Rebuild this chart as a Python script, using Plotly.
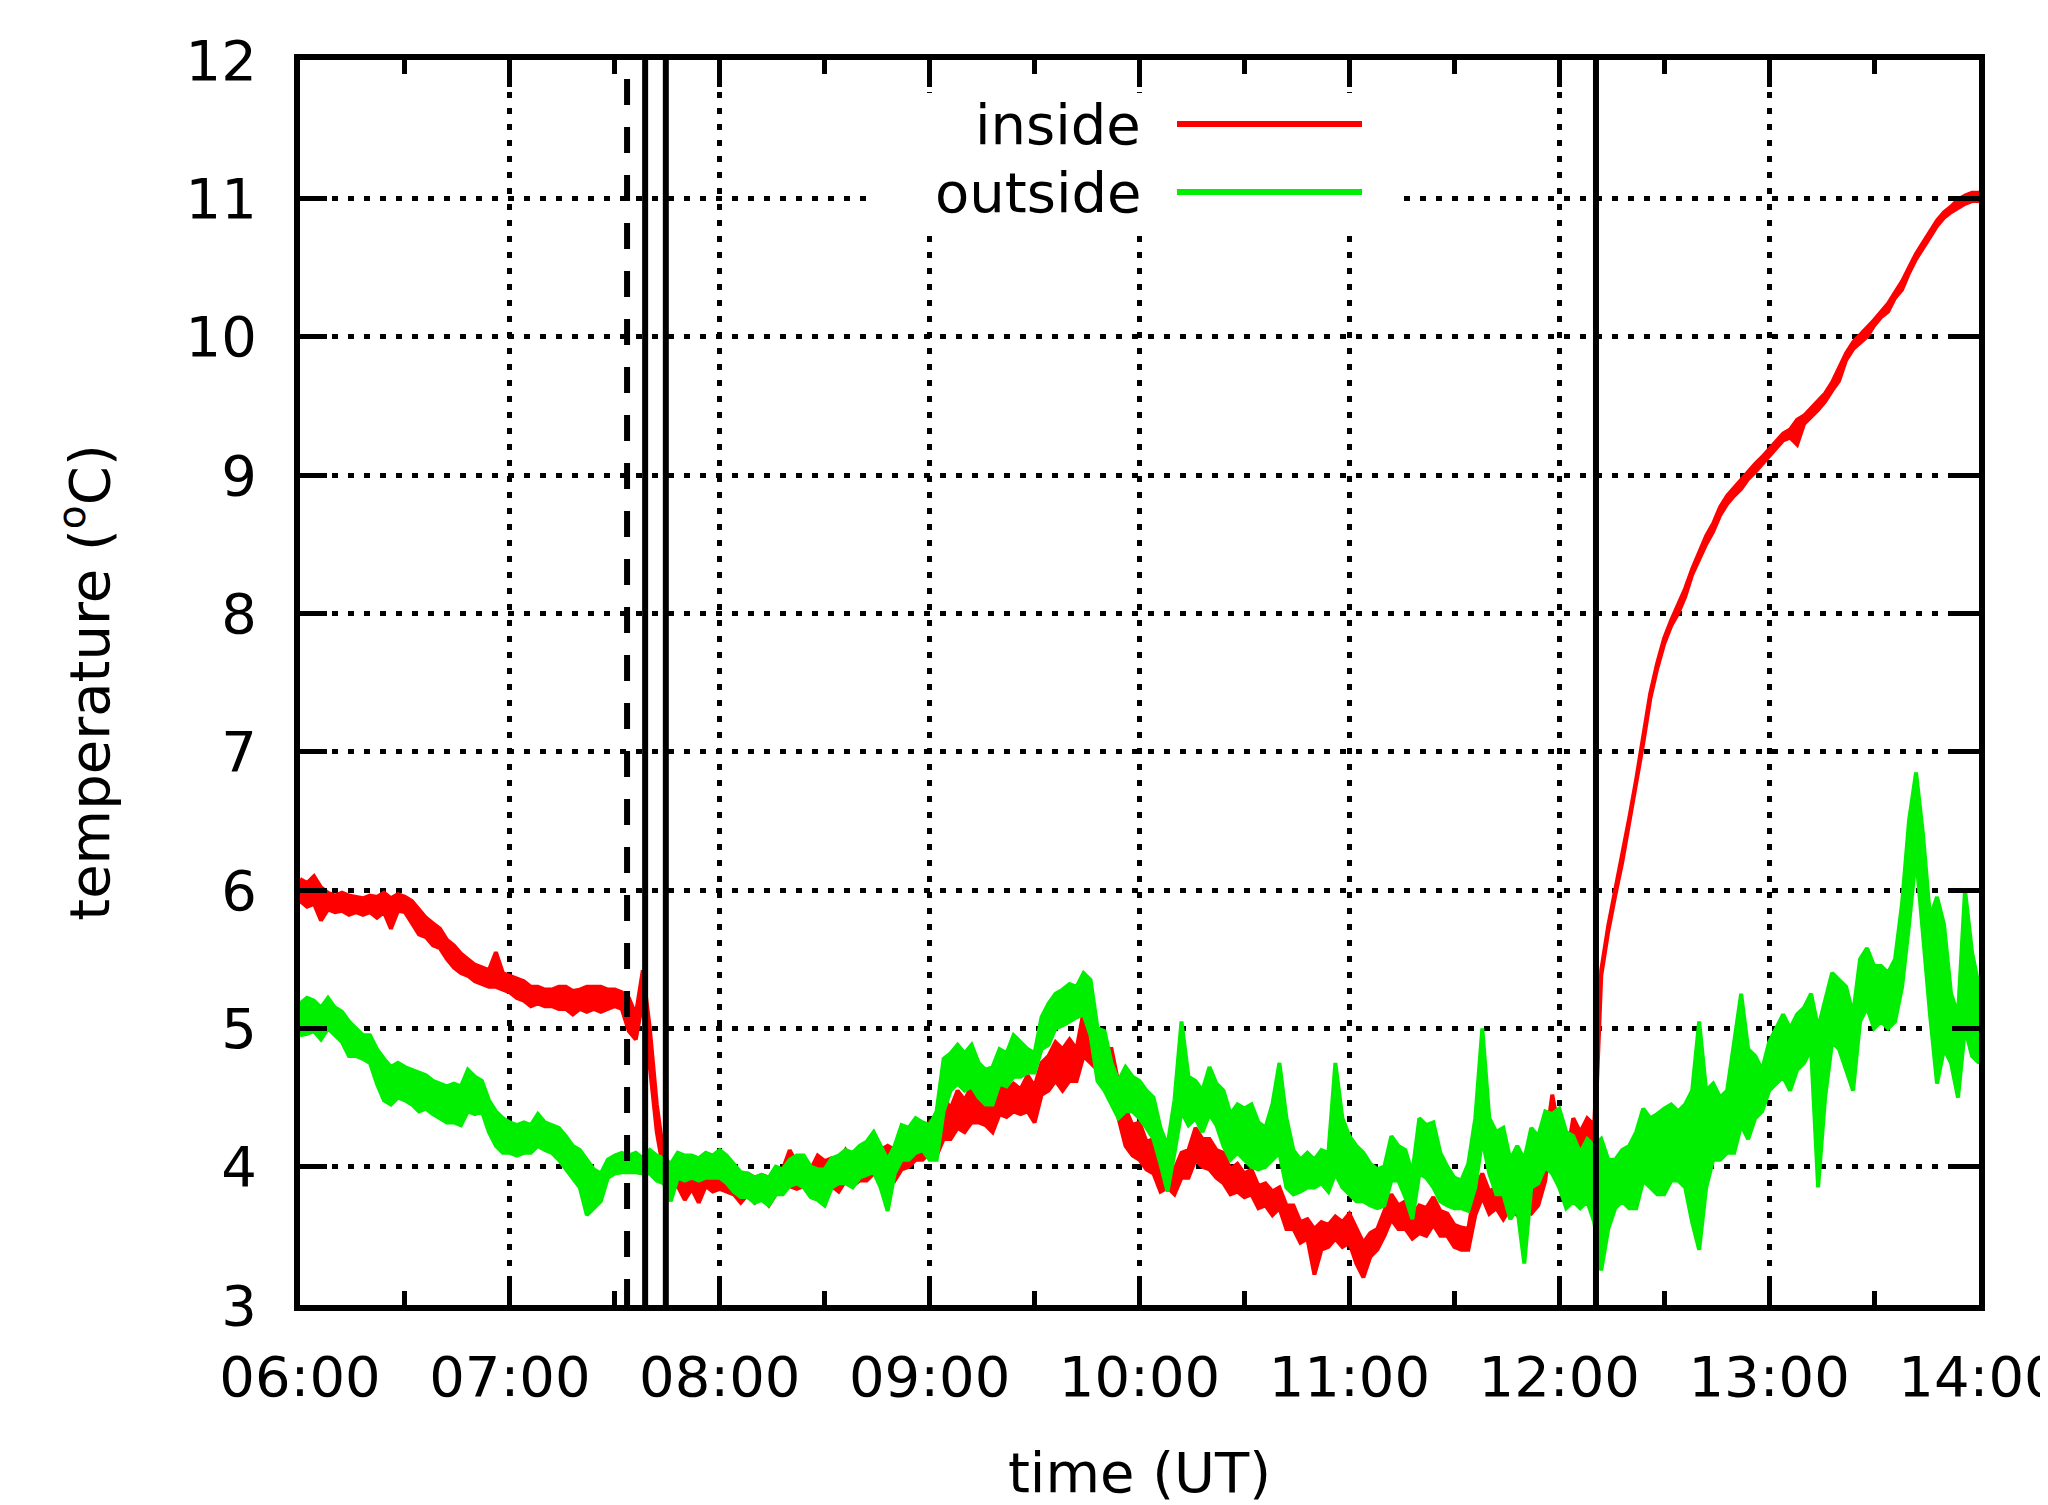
import pandas as pd
import plotly.graph_objects as go

# ---------------- data ----------------
day = "2013-01-01"
sample_start = "06:00"
sample_end = "14:00"
sample_step = "2min"

# inside temperature (degC): upper / lower edge of the noisy trace, every 2 min 06:00..14:00
inside_hi = [
    6.08, 6.05, 6.10, 6.02, 5.98,   # 06:00
    5.96, 5.98, 5.96, 5.95, 5.94,   # 06:10
    5.96, 5.95, 5.98, 5.94, 5.97,   # 06:20
    5.95, 5.92, 5.86, 5.80, 5.76,   # 06:30
    5.72, 5.64, 5.60, 5.54, 5.50,   # 06:40
    5.46, 5.44, 5.42, 5.55, 5.40,   # 06:50
    5.38, 5.36, 5.34, 5.30, 5.30,   # 07:00
    5.28, 5.28, 5.30, 5.30, 5.27,   # 07:10
    5.28, 5.30, 5.30, 5.30, 5.28,   # 07:20
    5.28, 5.26, 5.22, 5.10, 5.42,   # 07:30
    5.00, 4.45, 4.08, 4.00, 4.02,   # 07:40
    3.98, 3.98, 3.98, 4.00, 3.98,   # 07:50
    4.00, 3.98, 3.96, 3.94, 3.95,   # 08:00
    3.92, 3.94, 3.92, 3.96, 3.98,   # 08:10
    4.12, 4.02, 4.02, 3.98, 4.08,   # 08:20
    4.04, 4.06, 4.02, 4.12, 4.05,   # 08:30
    4.12, 4.10, 4.18, 4.12, 4.15,   # 08:40
    4.12, 4.22, 4.18, 4.28, 4.25,   # 08:50
    4.32, 4.25, 4.50, 4.42, 4.55,   # 09:00
    4.48, 4.58, 4.52, 4.56, 4.50,   # 09:10
    4.62, 4.55, 4.60, 4.56, 4.66,   # 09:20
    4.58, 4.75, 4.80, 4.90, 4.85,   # 09:30
    4.92, 4.85, 5.12, 5.00, 4.98,   # 09:40
    4.85, 4.85, 4.60, 4.42, 4.30,   # 09:50
    4.32, 4.18, 4.20, 4.02, 4.00,   # 10:00
    3.98, 4.10, 4.12, 4.28, 4.20,   # 10:10
    4.20, 4.12, 4.10, 3.98, 4.02,   # 10:20
    3.95, 3.98, 3.86, 3.88, 3.82,   # 10:30
    3.85, 3.72, 3.72, 3.60, 3.62,   # 10:40
    3.55, 3.60, 3.58, 3.64, 3.60,   # 10:50
    3.66, 3.55, 3.45, 3.52, 3.55,   # 11:00
    3.68, 3.80, 3.72, 3.75, 3.65,   # 11:10
    3.72, 3.70, 3.78, 3.68, 3.66,   # 11:20
    3.58, 3.56, 3.55, 3.85, 3.95,   # 11:30
    3.82, 3.85, 3.80, 3.88, 3.82,   # 11:40
    3.86, 3.80, 3.90, 4.15, 4.52,   # 11:50
    4.25, 4.05, 4.35, 4.25, 4.35,   # 12:00
    4.30, 5.42, 5.74, 6.00, 6.24,   # 12:10
    6.52, 6.80, 7.10, 7.42, 7.64,   # 12:20
    7.82, 7.95, 8.06, 8.18, 8.32,   # 12:30
    8.45, 8.56, 8.65, 8.77, 8.85,   # 12:40
    8.91, 8.96, 9.03, 9.08, 9.13,   # 12:50
    9.19, 9.25, 9.30, 9.33, 9.40,   # 13:00
    9.43, 9.48, 9.53, 9.59, 9.67,   # 13:10
    9.78, 9.88, 9.96, 10.01, 10.06,     # 13:20
    10.12, 10.18, 10.24, 10.32, 10.40,  # 13:30
    10.50, 10.60, 10.68, 10.76, 10.84,  # 13:40
    10.90, 10.94, 10.99, 11.02, 11.04,  # 13:50
    11.04,                              # 14:00
]
inside_lo = [
    5.92, 5.88, 5.90, 5.78, 5.86,   # 06:00
    5.84, 5.85, 5.82, 5.84, 5.82,   # 06:10
    5.84, 5.80, 5.84, 5.72, 5.85,   # 06:20
    5.84, 5.76, 5.68, 5.66, 5.60,   # 06:30
    5.58, 5.50, 5.44, 5.40, 5.38,   # 06:40
    5.34, 5.32, 5.30, 5.30, 5.28,   # 06:50
    5.26, 5.22, 5.20, 5.16, 5.18,   # 07:00
    5.16, 5.16, 5.14, 5.14, 5.10,   # 07:10
    5.14, 5.12, 5.14, 5.12, 5.14,   # 07:20
    5.16, 5.14, 4.98, 4.92, 5.20,   # 07:30
    4.75, 4.25, 3.96, 3.84, 3.86,   # 07:40
    3.76, 3.84, 3.74, 3.86, 3.82,   # 07:50
    3.84, 3.82, 3.80, 3.74, 3.80,   # 08:00
    3.74, 3.78, 3.72, 3.80, 3.82,   # 08:10
    3.86, 3.84, 3.86, 3.80, 3.88,   # 08:20
    3.84, 3.86, 3.82, 3.90, 3.86,   # 08:30
    3.90, 3.90, 3.95, 3.92, 3.95,   # 08:40
    3.90, 3.98, 4.00, 4.05, 4.05,   # 08:50
    4.10, 4.08, 4.20, 4.20, 4.28,   # 09:00
    4.25, 4.32, 4.32, 4.30, 4.25,   # 09:10
    4.38, 4.36, 4.40, 4.38, 4.40,   # 09:20
    4.32, 4.52, 4.55, 4.62, 4.55,   # 09:30
    4.62, 4.62, 4.80, 4.75, 4.70,   # 09:40
    4.62, 4.55, 4.35, 4.15, 4.08,   # 09:50
    4.05, 3.98, 3.95, 3.82, 3.85,   # 10:00
    3.80, 3.92, 3.92, 4.05, 4.00,   # 10:10
    3.98, 3.92, 3.88, 3.80, 3.82,   # 10:20
    3.78, 3.80, 3.70, 3.72, 3.65,   # 10:30
    3.70, 3.55, 3.55, 3.45, 3.48,   # 10:40
    3.22, 3.40, 3.42, 3.48, 3.42,   # 10:50
    3.45, 3.30, 3.20, 3.35, 3.40,   # 11:00
    3.50, 3.62, 3.55, 3.55, 3.48,   # 11:10
    3.52, 3.50, 3.58, 3.50, 3.50,   # 11:20
    3.42, 3.40, 3.40, 3.65, 3.78,   # 11:30
    3.66, 3.70, 3.62, 3.70, 3.65,   # 11:40
    3.68, 3.66, 3.72, 3.90, 4.30,   # 11:50
    4.05, 3.90, 4.15, 4.08, 4.15,   # 12:00
    4.10, 5.38, 5.70, 5.96, 6.20,   # 12:10
    6.48, 6.76, 7.06, 7.38, 7.60,   # 12:20
    7.78, 7.91, 8.00, 8.12, 8.28,   # 12:30
    8.39, 8.50, 8.59, 8.71, 8.79,   # 12:40
    8.85, 8.90, 8.97, 9.02, 9.07,   # 12:50
    9.13, 9.19, 9.25, 9.27, 9.22,   # 13:00
    9.37, 9.42, 9.47, 9.53, 9.61,   # 13:10
    9.68, 9.83, 9.91, 9.95, 10.00,      # 13:20
    10.08, 10.14, 10.18, 10.28, 10.34,  # 13:30
    10.46, 10.56, 10.64, 10.72, 10.80,  # 13:40
    10.86, 10.90, 10.93, 10.96, 10.98,  # 13:50
    10.98,                              # 14:00
]

# outside temperature (degC): upper / lower edge, same sampling
outside_hi = [
    5.18, 5.22, 5.20, 5.15, 5.22,   # 06:00
    5.15, 5.12, 5.05, 5.00, 4.95,   # 06:10
    4.95, 4.85, 4.78, 4.72, 4.75,   # 06:20
    4.72, 4.70, 4.68, 4.66, 4.62,   # 06:30
    4.60, 4.58, 4.60, 4.58, 4.70,   # 06:40
    4.65, 4.62, 4.48, 4.40, 4.35,   # 06:50
    4.32, 4.30, 4.32, 4.30, 4.38,   # 07:00
    4.32, 4.30, 4.28, 4.22, 4.15,   # 07:10
    4.12, 4.05, 3.98, 3.95, 4.05,   # 07:20
    4.08, 4.10, 4.08, 4.10, 4.06,   # 07:30
    4.12, 4.08, 4.06, 4.02, 4.10,   # 07:40
    4.08, 4.08, 4.06, 4.10, 4.08,   # 07:50
    4.12, 4.08, 4.02, 3.96, 3.95,   # 08:00
    3.92, 3.94, 3.92, 4.00, 3.98,   # 08:10
    4.05, 4.08, 4.08, 4.00, 3.98,   # 08:20
    3.98, 4.06, 4.08, 4.12, 4.10,   # 08:30
    4.15, 4.18, 4.25, 4.15, 4.05,   # 08:40
    4.15, 4.30, 4.28, 4.35, 4.32,   # 08:50
    4.30, 4.40, 4.78, 4.82, 4.88,   # 09:00
    4.82, 4.88, 4.75, 4.70, 4.72,   # 09:10
    4.85, 4.82, 4.95, 4.90, 4.85,   # 09:20
    4.82, 5.08, 5.18, 5.25, 5.28,   # 09:30
    5.32, 5.30, 5.40, 5.35, 5.00,   # 09:40
    4.98, 4.75, 4.62, 4.72, 4.65,   # 09:50
    4.62, 4.55, 4.50, 4.28, 4.15,   # 10:00
    4.48, 5.05, 4.65, 4.62, 4.55,   # 10:10
    4.72, 4.60, 4.55, 4.38, 4.45,   # 10:20
    4.42, 4.45, 4.32, 4.28, 4.45,   # 10:30
    4.75, 4.35, 4.12, 4.05, 4.10,   # 10:40
    4.05, 4.12, 4.10, 4.75, 4.35,   # 10:50
    4.22, 4.15, 4.10, 4.02, 3.98,   # 11:00
    4.00, 4.22, 4.15, 4.12, 3.95,   # 11:10
    4.35, 4.30, 4.32, 4.10, 4.00,   # 11:20
    3.92, 3.90, 4.02, 4.35, 5.00,   # 11:30
    4.35, 4.25, 4.28, 4.05, 4.15,   # 11:40
    4.05, 4.28, 4.22, 4.40, 4.38,   # 11:50
    4.42, 4.25, 4.22, 4.10, 4.20,   # 12:00
    4.15, 4.20, 4.05, 4.05, 4.12,   # 12:10
    4.15, 4.25, 4.42, 4.35, 4.38,   # 12:20
    4.42, 4.45, 4.40, 4.45, 4.55,   # 12:30
    5.05, 4.55, 4.60, 4.50, 4.55,   # 12:40
    4.90, 5.25, 4.85, 4.80, 4.70,   # 12:50
    4.90, 5.00, 5.10, 5.00, 5.10,   # 13:00
    5.15, 5.25, 5.00, 5.20, 5.40,   # 13:10
    5.35, 5.30, 5.10, 5.50, 5.58,   # 13:20
    5.45, 5.45, 5.40, 5.50, 5.90,   # 13:30
    6.50, 6.85, 6.40, 5.80, 5.95,   # 13:40
    5.75, 5.25, 5.10, 6.00, 5.55,   # 13:50
    5.30,                           # 14:00
]
outside_lo = [
    4.95, 4.96, 4.98, 4.92, 5.00,   # 06:00
    4.95, 4.90, 4.80, 4.80, 4.78,   # 06:10
    4.75, 4.60, 4.48, 4.45, 4.50,   # 06:20
    4.48, 4.45, 4.40, 4.42, 4.38,   # 06:30
    4.35, 4.32, 4.32, 4.30, 4.40,   # 06:40
    4.38, 4.40, 4.25, 4.15, 4.10,   # 06:50
    4.10, 4.08, 4.10, 4.10, 4.15,   # 07:00
    4.12, 4.10, 4.05, 3.98, 3.92,   # 07:10
    3.85, 3.65, 3.70, 3.75, 3.92,   # 07:20
    3.95, 3.96, 3.96, 3.96, 3.95,   # 07:30
    3.95, 3.90, 3.88, 3.75, 3.92,   # 07:40
    3.90, 3.92, 3.90, 3.92, 3.92,   # 07:50
    3.92, 3.88, 3.82, 3.78, 3.78,   # 08:00
    3.74, 3.76, 3.72, 3.80, 3.80,   # 08:10
    3.86, 3.88, 3.85, 3.78, 3.76,   # 08:20
    3.72, 3.85, 3.88, 3.88, 3.85,   # 08:30
    3.92, 3.94, 3.96, 3.85, 3.68,   # 08:40
    3.95, 4.05, 4.05, 4.10, 4.12,   # 08:50
    4.05, 4.05, 4.40, 4.55, 4.60,   # 09:00
    4.55, 4.58, 4.50, 4.45, 4.45,   # 09:10
    4.60, 4.58, 4.65, 4.65, 4.68,   # 09:20
    4.68, 4.85, 4.88, 5.00, 5.02,   # 09:30
    5.05, 5.08, 5.10, 4.95, 4.62,   # 09:40
    4.55, 4.45, 4.35, 4.40, 4.40,   # 09:50
    4.35, 4.28, 4.20, 4.02, 3.82,   # 10:00
    4.10, 4.40, 4.30, 4.35, 4.25,   # 10:10
    4.38, 4.30, 4.15, 4.05, 4.10,   # 10:20
    4.05, 4.00, 3.98, 4.00, 4.05,   # 10:30
    4.10, 3.85, 3.80, 3.82, 3.85,   # 10:40
    3.85, 3.88, 3.82, 3.95, 3.85,   # 10:50
    3.80, 3.75, 3.75, 3.72, 3.70,   # 11:00
    3.72, 3.90, 3.90, 3.78, 3.62,   # 11:10
    3.95, 3.92, 3.85, 3.75, 3.72,   # 11:20
    3.70, 3.70, 3.68, 3.85, 4.20,   # 11:30
    3.95, 3.80, 3.80, 3.62, 3.70,   # 11:40
    3.30, 3.85, 3.88, 4.00, 3.95,   # 11:50
    3.85, 3.70, 3.75, 3.70, 3.75,   # 12:00
    3.60, 3.25, 3.55, 3.70, 3.75,   # 12:10
    3.70, 3.70, 3.90, 3.85, 3.80,   # 12:20
    3.80, 3.90, 3.90, 3.85, 3.60,   # 12:30
    3.40, 3.85, 4.05, 4.05, 4.10,   # 12:40
    4.10, 4.30, 4.20, 4.35, 4.40,   # 12:50
    4.55, 4.60, 4.65, 4.55, 4.70,   # 13:00
    4.75, 4.85, 3.85, 4.50, 4.90,   # 13:10
    4.85, 4.70, 4.55, 5.05, 5.15,   # 13:20
    5.00, 5.05, 5.00, 5.05, 5.30,   # 13:30
    5.75, 6.25, 5.70, 5.10, 4.60,   # 13:40
    4.85, 4.75, 4.50, 5.00, 4.80,   # 13:50
    4.75,                           # 14:00
]

series_names = ["inside", "outside"]
series_colors = ["#ff0000", "#00ee00"]

# event markers (vertical lines)
event_times = ["07:33:30", "07:38:40", "07:44:35", "12:10:30"]
event_dash = ["dashed", "solid", "solid", "solid"]

x_major_step_ms = 3600000
x_minor_step_ms = 1800000
y_range = [3, 12]

# ---------------- figure ----------------
times = list(pd.date_range(f"{day} {sample_start}", f"{day} {sample_end}", freq=sample_step))

# page body has an 8px margin: shrink the figure so it fits the 2048x1505 window
PAGE_OFF = 8
W, H = 2048 - PAGE_OFF, 1505 - PAGE_OFF
PL, PR, PT, PB = 300, 1979, 60, 1305          # plot area in page pixels
ML, MT = PL - PAGE_OFF, PT - PAGE_OFF
MR = W - (PR - PAGE_OFF)
MB = H - (PB - PAGE_OFF)
FONT = "DejaVu Sans"
FS = 56

fig = go.Figure()
for name, hi, lo, col in zip(series_names, [inside_hi, outside_hi],
                             [inside_lo, outside_lo], series_colors):
    fig.add_trace(go.Scatter(
        x=times + times[::-1], y=list(hi) + list(lo)[::-1],
        mode="lines", fill="toself", fillcolor=col, name=name,
        line=dict(color=col, width=4), showlegend=False, hoverinfo="skip",
    ))

shapes = []
for t, d in zip(event_times, event_dash):
    shapes.append(dict(
        type="line", xref="x", yref="paper",
        x0=f"{day} {t}", x1=f"{day} {t}", y0=0, y1=1,
        line=dict(color="black", width=6,
                  dash="26px,22px" if d == "dashed" else "solid"),
        layer="above",
    ))

pw = PR - PL
ph = PB - PT
def px(xp):
    return (xp - PL) / pw
def py(yp):
    return (PB - yp) / ph

# gnuplot-style key: opaque white box, right-aligned text then line sample
shapes.append(dict(type="rect", xref="paper", yref="paper",
                   x0=px(872), x1=px(1395), y0=py(232), y1=py(93),
                   fillcolor="white", line=dict(width=0), layer="above"))
annotations = []
for i, (name, col) in enumerate(zip(series_names, series_colors)):
    yrow = 124 + i * 68
    annotations.append(dict(
        text=name, xref="paper", yref="paper", x=px(1143), y=py(yrow),
        xanchor="right", yanchor="middle", showarrow=False,
        font=dict(family=FONT, size=FS, color="black"),
    ))
    shapes.append(dict(type="line", xref="paper", yref="paper",
                       x0=px(1177), x1=px(1362), y0=py(yrow), y1=py(yrow),
                       line=dict(color=col, width=6), layer="above"))

axis_common = dict(
    showline=True, linewidth=6, linecolor="black", mirror="ticks",
    ticks="inside", tickwidth=5, tickcolor="black", ticklen=27,
    showgrid=True, gridcolor="black", gridwidth=5, griddash="6px,10px",
    zeroline=False, ticklabeloverflow="allow", automargin=False,
    tickfont=dict(family=FONT, size=FS, color="black"),
)

fig.update_layout(
    width=W, height=H,
    margin=dict(l=ML, r=MR, t=MT, b=MB, autoexpand=False),
    paper_bgcolor="white", plot_bgcolor="white",
    shapes=shapes, annotations=annotations,
    xaxis=dict(
        type="date",
        range=[f"{day} {sample_start}", f"{day} {sample_end}"],
        tick0=f"{day} {sample_start}", dtick=x_major_step_ms,
        tickformat="%H:%M",
        minor=dict(dtick=x_minor_step_ms, ticks="inside", ticklen=14,
                   tickwidth=5, tickcolor="black", showgrid=False),
        ticklabelstandoff=18,
        title=dict(text="time (UT)", font=dict(family=FONT, size=FS, color="black"),
                   standoff=50),
        **axis_common,
    ),
    yaxis=dict(
        range=y_range, dtick=1, tick0=3,
        ticklabelstandoff=26,
        title=dict(text="temperature (<sup>o</sup>C)",
                   font=dict(family=FONT, size=FS, color="black"), standoff=60),
        **axis_common,
    ),
    font=dict(family=FONT, size=FS, color="black"),
)

fig.write_html("out.html")
